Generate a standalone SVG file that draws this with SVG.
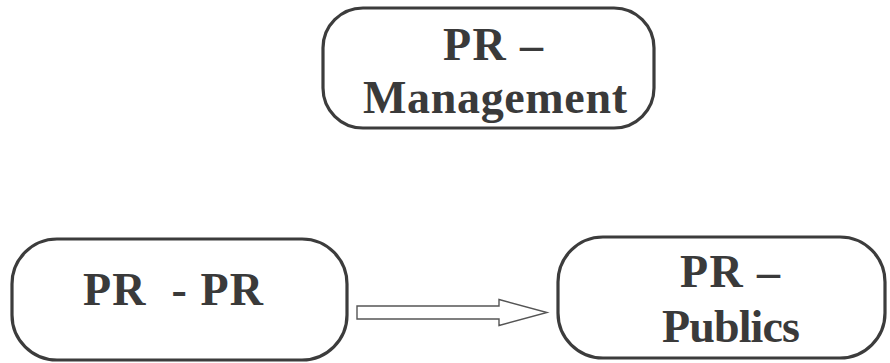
<svg xmlns="http://www.w3.org/2000/svg" width="890" height="363" viewBox="0 0 890 363">
<style>
.box{fill:none;stroke:#3c3c3c;stroke-width:3.2}
.t{font-family:"Liberation Serif","Times New Roman",serif;font-weight:bold;fill:#3a3a3a;font-size:46px}
.arrow{fill:#fff;stroke:#555;stroke-width:1.4;stroke-linejoin:miter}
</style>
<rect width="890" height="363" fill="#fff"/>
<g id="mgmt">
<rect class="box" x="323" y="8" width="331" height="120" rx="40" ry="40"/>
<text class="t" x="443" y="60" textLength="100" lengthAdjust="spacing">PR –</text>
<text class="t" x="363" y="113" textLength="264" lengthAdjust="spacing">Management</text>
</g>
<g id="prpr">
<rect class="box" x="12" y="239" width="335" height="121" rx="45" ry="45"/>
<text class="t" x="83" y="305" textLength="180" lengthAdjust="spacing" xml:space="preserve">PR  - PR</text>
</g>
<g id="publics">
<rect class="box" x="558" y="237" width="327" height="121" rx="45" ry="45"/>
<text class="t" x="680" y="287" textLength="100" lengthAdjust="spacing">PR –</text>
<text class="t" x="662" y="342" textLength="138" lengthAdjust="spacing">Publics</text>
</g>
<g id="connectors">
<polygon class="arrow" points="357,306 499,306 499,299.5 547,312.5 499,325.5 499,319 357,319"/>
</g>
</svg>
